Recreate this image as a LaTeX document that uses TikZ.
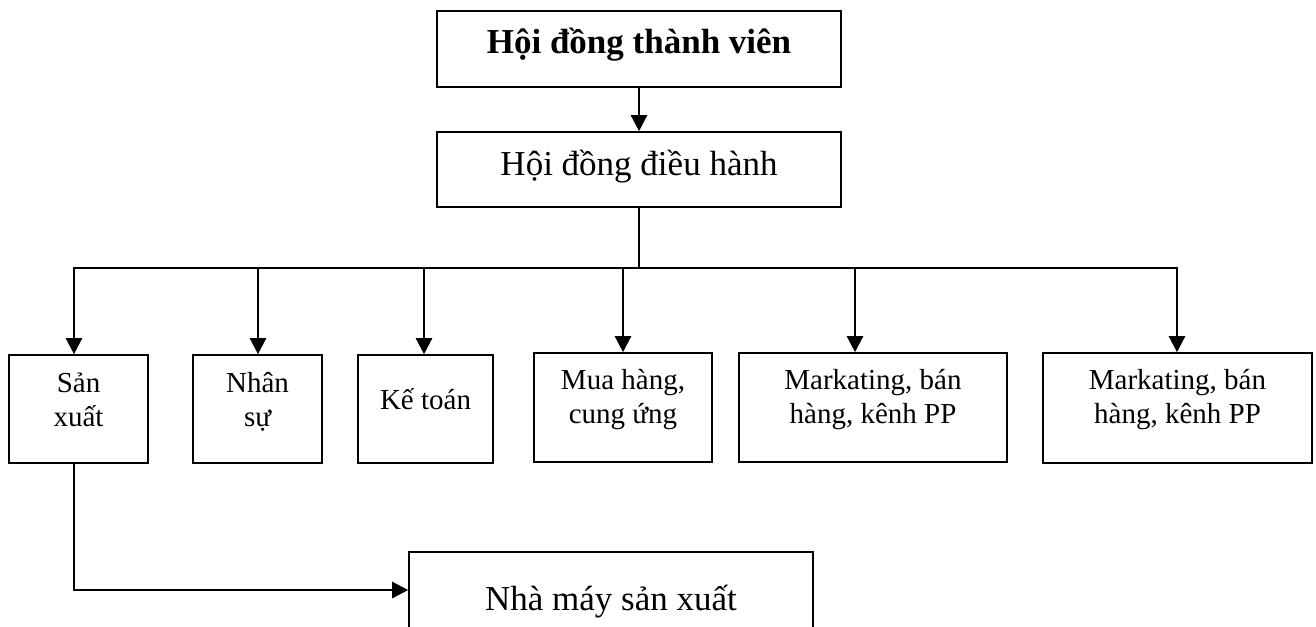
\documentclass[tikz,border=0pt]{standalone}
\usepackage{fontspec}
\setmainfont{Liberation Serif}
\usetikzlibrary{arrows.meta}
\begin{document}
\begin{tikzpicture}[x=1pt,y=-1pt,
  box/.style={draw, line width=1.6pt, inner sep=0pt, minimum width=#1},
  lbl/.style={anchor=base, align=center, inner sep=0pt},
  big/.style={font=\fontsize{35}{40}\selectfont},
  small/.style={font=\fontsize{29}{33.5}\selectfont},
  conn/.style={line width=2.4pt},
  arr/.style={conn, -{Triangle[length=16pt,width=16pt]}}]
\clip (0,0) rectangle (1316,626);
% top levels
\node[box=404pt, minimum height=76pt] (hdtv) at (639,49) {};
\node[box=404pt, minimum height=75pt] (hddh) at (639,169.5) {};
\node[lbl, big, font=\fontsize{35}{40}\selectfont\bfseries] at (639,53) {Hội đồng thành viên};
\node[lbl, big] at (639,175) {Hội đồng điều hành};
% departments (label anchors sit on the last line's baseline)
\node[box=139pt, minimum height=108pt] (sx)  at (78.5,409) {};
\node[box=129pt, minimum height=108pt] (ns)  at (257.5,409) {};
\node[box=135pt, minimum height=108pt] (kt)  at (425.5,409) {};
\node[box=178pt, minimum height=109pt] (mh)  at (623,407.5) {};
\node[box=268pt, minimum height=109pt] (mk1) at (873,407.5) {};
\node[box=269pt, minimum height=110pt] (mk2) at (1177.5,408) {};
\node[lbl, small] at (78.5,426) {Sản\\xuất};
\node[lbl, small] at (257.5,426) {Nhân\\sự};
\node[lbl, small] at (425.5,409) {Kế toán};
\node[lbl, small] at (623,423) {Mua hàng,\\cung ứng};
\node[lbl, small] at (873,423) {Markating, bán\\hàng, kênh PP};
\node[lbl, small] at (1177.5,423) {Markating, bán\\hàng, kênh PP};
% factory
\node[box=404pt, minimum height=108pt] (nm) at (611,606) {};
\node[lbl, big] at (611,610) {Nhà máy sản xuất};
% connectors
\coordinate (hub) at (639,268);
\coordinate (b1) at (74,268);
\coordinate (b2) at (258,268);
\coordinate (b3) at (424,268);
\coordinate (b4) at (623,268);
\coordinate (b5) at (855,268);
\coordinate (b6) at (1177,268);
\coordinate (f) at (74,590);
\draw[arr] (hdtv.south) -- (hddh.north);
\draw[conn] (hddh.south) -- (hub);
\draw[conn, line cap=rect] (b1) -- (b6);
\draw[arr] (b1) -- (b1 |- sx.north);
\draw[arr] (b2) -- (b2 |- ns.north);
\draw[arr] (b3) -- (b3 |- kt.north);
\draw[arr] (b4) -- (b4 |- mh.north);
\draw[arr] (b5) -- (b5 |- mk1.north);
\draw[arr] (b6) -- (b6 |- mk2.north);
\draw[arr] (sx.south -| f) -- (f) -- (f -| nm.west);
\end{tikzpicture}
\end{document}
